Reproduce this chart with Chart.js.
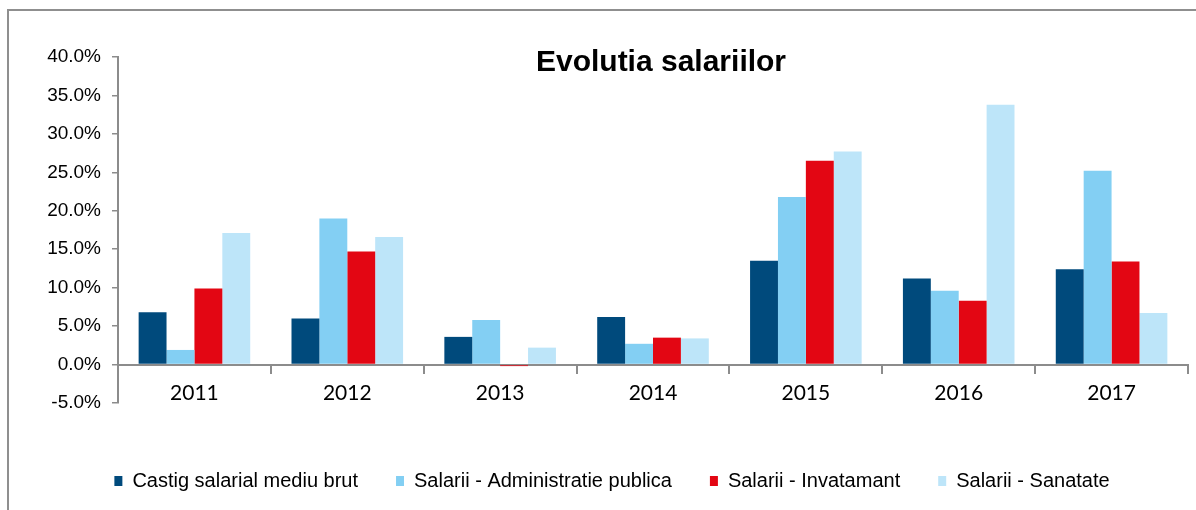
<!DOCTYPE html>
<html>
<head>
<meta charset="utf-8">
<script src="https://cdn.jsdelivr.net/npm/chart.js@4"></script>
<style>
    html, body { margin: 0; padding: 0; background: #fff; }
    #wrap { position: relative; width: 1196px; height: 510px; overflow: hidden; }
    #frame { position: absolute; left: 7px; top: 9px; width: 1300px; height: 600px; border: 2px solid #8f8f8f; box-sizing: border-box; }
    #title { position: absolute; left: 361px; top: 46px; width: 600px; text-align: center;
             font: bold 30px "Liberation Sans", Arial, sans-serif; line-height: 29px; color: #000; }
    canvas { position: absolute; left: 0; top: 0; }
</style>
</head>
<body>
<div id="wrap">
    <div id="frame"></div>
    <canvas id="salarii-chart" width="1196" height="510"></canvas>
    <div id="title">Evolutia salariilor</div>
</div>
<script>
// Date grafic
const ani = ['2011', '2012', '2013', '2014', '2015', '2016', '2017'];
const castigMediu = [6.8, 6.0, 3.6, 6.2, 13.5, 11.2, 12.4];
const adminPublica = [1.9, 19.0, 5.8, 2.7, 21.8, 9.6, 25.2];
const invatamant = [9.9, 14.7, -0.2, 3.5, 26.5, 8.3, 13.4];
const sanatate = [17.1, 16.6, 2.2, 3.4, 27.7, 33.8, 6.7];
const serii = ['Castig salarial mediu brut', 'Salarii - Administratie publica', 'Salarii - Invatamant', 'Salarii - Sanatate'];

document.addEventListener('DOMContentLoaded', function() {
    setupChart();
});

function setupChart() {
    const ctx = document.getElementById('salarii-chart').getContext('2d');
    const axisColor = '#8c8c8c';

    new Chart(ctx, {
        type: 'bar',
        data: {
            labels: ani,
            datasets: [
                { label: serii[0], data: castigMediu, backgroundColor: '#004a7c' },
                { label: serii[1], data: adminPublica, backgroundColor: '#83cff3' },
                { label: serii[2], data: invatamant, backgroundColor: '#e30613' },
                { label: serii[3], data: sanatate, backgroundColor: '#bde5f9' }
            ]
        },
        options: {
            responsive: false,
            animation: false,
            categoryPercentage: 0.73,
            barPercentage: 1.0,
            layout: {
                padding: { left: 36, top: 57, right: 8, bottom: 9 }
            },
            plugins: {
                title: { display: false },
                tooltip: { enabled: false },
                legend: {
                    position: 'bottom',
                    labels: {
                        boxWidth: 8,
                        boxHeight: 10,
                        padding: 38,
                        color: '#000',
                        font: { family: '"Liberation Sans", Arial, sans-serif', size: 20 }
                    }
                }
            },
            scales: {
                x: {
                    position: { y: 0 },
                    grid: {
                        offset: true,
                        drawOnChartArea: false,
                        drawTicks: true,
                        tickLength: 8,
                        color: axisColor,
                        lineWidth: 2
                    },
                    border: { display: true, color: axisColor, width: 2 },
                    ticks: {
                        color: '#000',
                        padding: 8,
                        font: { family: 'Lato, "Open Sans", sans-serif', size: 21 }
                    }
                },
                // axa invizibila doar pentru spatiul de sub zona graficului
                xSpatiu: {
                    type: 'category',
                    position: 'bottom',
                    grid: { display: false },
                    border: { display: false },
                    ticks: { display: false },
                    afterFit: function(scale) { scale.height = 30; }
                },
                y: {
                    min: -5,
                    max: 40,
                    grid: {
                        drawOnChartArea: false,
                        drawTicks: true,
                        tickLength: 6,
                        color: axisColor,
                        lineWidth: 1.5
                    },
                    border: { display: true, color: axisColor, width: 2 },
                    ticks: {
                        stepSize: 5,
                        padding: 11,
                        color: '#000',
                        font: { family: '"Liberation Sans", Arial, sans-serif', size: 19 },
                        callback: function(v) { return v.toFixed(1) + '%'; }
                    },
                    afterFit: function(scale) { scale.width = 82; }
                }
            }
        }
    });
}
</script>
</body>
</html>
